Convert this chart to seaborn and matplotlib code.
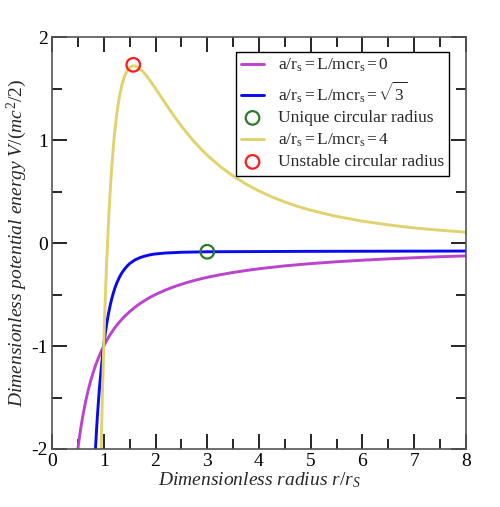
import matplotlib
matplotlib.use("Agg")
import matplotlib.pyplot as plt
import seaborn as sns
import pandas as pd
from matplotlib.ticker import MultipleLocator

# ---- data ----
x_a0 = [0.50, 0.525, 0.55, 0.575, 0.60, 0.65, 0.70, 0.75, 0.80, 0.85, 0.90, 0.95, 1.00, 1.05,
        1.10, 1.15, 1.20, 1.25, 1.30, 1.35, 1.40, 1.45, 1.50, 1.60, 1.70, 1.80, 1.90, 2.00,
        2.20, 2.40, 2.60, 2.80, 3.00, 3.25, 3.50, 3.75, 4.00, 4.50, 5.00, 5.50, 6.00, 6.50,
        7.00, 7.50, 8.00]
v_a0 = [-2.0, -1.905, -1.818, -1.739, -1.667, -1.538, -1.429, -1.333, -1.25, -1.176, -1.111,
        -1.053, -1.0, -0.952, -0.909, -0.870, -0.833, -0.8, -0.769, -0.741, -0.714, -0.690,
        -0.667, -0.625, -0.588, -0.556, -0.526, -0.5, -0.455, -0.417, -0.385, -0.357, -0.333,
        -0.308, -0.286, -0.267, -0.25, -0.222, -0.2, -0.182, -0.167, -0.154, -0.143, -0.133,
        -0.125]

x_a3 = [0.84, 0.86, 0.88, 0.90, 0.92, 0.94, 0.96, 0.98, 1.00, 1.03, 1.06, 1.09, 1.12, 1.15,
        1.18, 1.21, 1.25, 1.30, 1.35, 1.40, 1.45, 1.50, 1.60, 1.70, 1.80, 1.90, 2.00, 2.20,
        2.50, 3.00, 3.50, 4.00, 5.00, 6.00, 7.00, 8.00]
v_a3 = [-2.00, -1.82, -1.66, -1.52, -1.39, -1.28, -1.175, -1.08, -0.99, -0.875, -0.775, -0.69,
        -0.615, -0.55, -0.495, -0.445, -0.39, -0.335, -0.29, -0.255, -0.225, -0.20, -0.165,
        -0.142, -0.126, -0.114, -0.106, -0.097, -0.090, -0.085, -0.084, -0.083, -0.081,
        -0.080, -0.079, -0.078]

x_a4 = [0.95, 0.96, 0.98, 1.00, 1.02, 1.05, 1.10, 1.15, 1.20, 1.25, 1.30, 1.35, 1.40, 1.45,
        1.50, 1.55, 1.60, 1.65, 1.70, 1.75, 1.80, 1.90, 2.00, 2.10, 2.20, 2.30, 2.40, 2.50,
        2.60, 2.70, 2.80, 2.90, 3.00, 3.25, 3.50, 3.75, 4.00, 4.25, 4.50, 4.75, 5.00, 5.50,
        6.00, 6.50, 7.00, 7.50, 8.00]
v_a4 = [-2.00, -1.765, -1.36, -1.00, -0.678, -0.261, 0.293, 0.708, 1.019, 1.248, 1.415, 1.535,
        1.618, 1.672, 1.703, 1.718, 1.719, 1.709, 1.691, 1.668, 1.639, 1.573, 1.500, 1.424,
        1.349, 1.275, 1.204, 1.136, 1.072, 1.012, 0.955, 0.902, 0.852, 0.743, 0.650, 0.572,
        0.505, 0.447, 0.398, 0.355, 0.318, 0.258, 0.212, 0.176, 0.146, 0.124, 0.105]

unique_r = [3.0]
unique_v = [-0.085]
unstable_r = [1.57]
unstable_v = [1.73]

labels = [r"$\mathrm{a/r_s = L/mcr_s = 0}$",
          r"$\mathrm{a/r_s = L/mcr_s = \sqrt{3}}$",
          "Unique circular radius",
          r"$\mathrm{a/r_s = L/mcr_s = 4}$",
          "Unstable circular radius"]

# ---- style ----
sns.set_style("white")
plt.rcParams["font.family"] = ["Liberation Serif", "DejaVu Serif"]
plt.rcParams["mathtext.fontset"] = "custom"
plt.rcParams["mathtext.rm"] = "Liberation Serif"
plt.rcParams["mathtext.it"] = "Liberation Serif:italic"
plt.rcParams["mathtext.bf"] = "Liberation Serif:bold"
plt.rcParams["axes.unicode_minus"] = False

c_purple = "#bb44cc"
c_blue = "#0a0af0"
c_yellow = "#e2d26e"
c_green = "#2a7a2a"
c_red = "#ff1a1a"

fig = plt.figure(figsize=(5.0, 5.07), dpi=100)
ax = fig.add_axes([0.104, 0.1144, 0.828, 0.8126])

df0 = pd.DataFrame({"r": x_a0, "V": v_a0})
df3 = pd.DataFrame({"r": x_a3, "V": v_a3})
df4 = pd.DataFrame({"r": x_a4, "V": v_a4})

lw = 2.1
sns.lineplot(data=df0, x="r", y="V", color=c_purple, lw=lw, sort=False, ax=ax, label=labels[0])
sns.lineplot(data=df3, x="r", y="V", color=c_blue, lw=lw, sort=False, ax=ax, label=labels[1])
sns.scatterplot(x=unique_r, y=unique_v, marker="o", s=95, facecolor="none",
                edgecolor=c_green, linewidth=1.6, ax=ax, label=labels[2], zorder=5)
sns.lineplot(data=df4, x="r", y="V", color=c_yellow, lw=lw, sort=False, ax=ax, label=labels[3])
sns.scatterplot(x=unstable_r, y=unstable_v, marker="o", s=95, facecolor="none",
                edgecolor=c_red, linewidth=1.6, ax=ax, label=labels[4], zorder=5)

ax.set_xlim(0, 8)
ax.set_ylim(-2, 2)
ax.xaxis.set_major_locator(MultipleLocator(1))
ax.xaxis.set_minor_locator(MultipleLocator(0.5))
ax.yaxis.set_major_locator(MultipleLocator(1))
ax.yaxis.set_minor_locator(MultipleLocator(0.5))
ax.tick_params(which="both", direction="in", top=True, right=True, bottom=True, left=True,
               colors="black", width=1.2)
ax.tick_params(which="major", length=11, labelsize=14, pad=3)
ax.tick_params(which="minor", length=7)
for s in ax.spines.values():
    s.set_color("#555555")
    s.set_linewidth(1.2)

ax.set_xlabel(r"Dimensionless radius $\mathit{r/r_S}$", fontsize=14, style="italic", labelpad=0)
ax.set_ylabel(r"Dimensionless potential energy $\mathit{V/(mc^2/2)}$", fontsize=14,
              style="italic", labelpad=2)

leg = ax.legend(loc="upper right", bbox_to_anchor=(0.959, 0.964), borderaxespad=0,
                fontsize=12.5, frameon=True, fancybox=False, edgecolor="black",
                handlelength=1.3, handletextpad=0.8, labelspacing=0.3,
                borderpad=0.3, framealpha=1)
leg.get_frame().set_linewidth(1.0)

fig.savefig("out.png", dpi=100)
